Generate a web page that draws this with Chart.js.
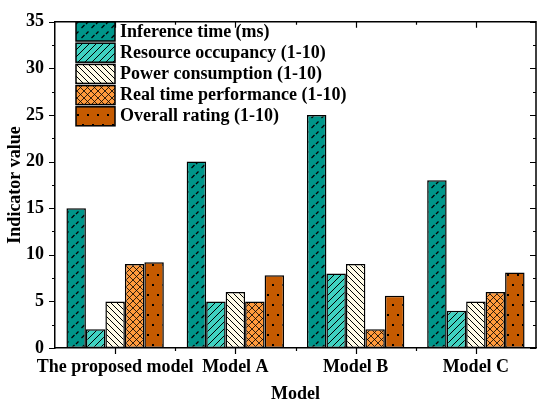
<!DOCTYPE html>
<html>
<head>
<meta charset="utf-8">
<script src="https://cdn.jsdelivr.net/npm/chart.js@4/dist/chart.umd.min.js"></script>
<style>
  html, body { margin: 0; padding: 0; background: #fff; }
</style>
</head>
<body>
<canvas id="grafico" width="537" height="403"></canvas>
<script>
// data
const models = ["The proposed model", "Model A", "Model B", "Model C"];
const seriesNames = [
  "Inference time (ms)",
  "Resource occupancy (1-10)",
  "Power consumption (1-10)",
  "Real time performance (1-10)",
  "Overall rating (1-10)"
];
const inferenceTime = [15, 20, 25, 18];
const resourceOccupancy = [2, 5, 8, 4];
const powerConsumption = [5, 6, 9, 5];
const realTimePerf = [9, 5, 2, 6];
const overallRating = [9.2, 7.8, 5.6, 8.1];
const yMin = 0;
const yMax = 35;
const yStep = 5;

const FONT = "'Liberation Serif', 'Times New Roman', serif";

function makePattern(bg, w, h, draw) {
  let c = document.createElement("canvas");
  c.width = w;
  c.height = h;
  let ctx = c.getContext("2d");
  ctx.fillStyle = bg;
  ctx.fillRect(0, 0, w, h);
  ctx.strokeStyle = "#000";
  ctx.fillStyle = "#000";
  ctx.lineWidth = 1;
  draw(ctx);
  return ctx.createPattern(c, "repeat");
}

// short dashes
let pTeal = makePattern("#00968a", 10, 10, ctx => {
  ctx.lineWidth = 1.3;
  ctx.beginPath();
  ctx.moveTo(1.5, 8); ctx.lineTo(4.5, 5);
  ctx.moveTo(6, 4); ctx.lineTo(8.5, 1.5);
  ctx.stroke();
});
// forward hatch
let pTurq = makePattern("#3fd2c1", 7, 7, ctx => {
  ctx.beginPath();
  ctx.moveTo(-1, 8); ctx.lineTo(8, -1);
  ctx.moveTo(-1, 1); ctx.lineTo(1, -1);
  ctx.moveTo(6, 8); ctx.lineTo(8, 6);
  ctx.stroke();
});
// back hatch
let pCream = makePattern("#fffbe6", 6, 6, ctx => {
  ctx.beginPath();
  ctx.moveTo(-1, -1); ctx.lineTo(7, 7);
  ctx.moveTo(5, -1); ctx.lineTo(7, 1);
  ctx.moveTo(-1, 5); ctx.lineTo(1, 7);
  ctx.stroke();
});
// cross hatch
let pOrange = makePattern("#ff9a3c", 7, 7, ctx => {
  ctx.lineWidth = 0.8;
  ctx.beginPath();
  ctx.moveTo(-1, 8); ctx.lineTo(8, -1);
  ctx.moveTo(-1, -1); ctx.lineTo(8, 8);
  ctx.stroke();
});
// sparse dots
let pDots = makePattern("#c55a00", 10, 20, ctx => {
  ctx.fillRect(2, 4, 2, 2);
  ctx.fillRect(7, 14, 2, 2);
});

let patterns = [pTeal, pTurq, pCream, pOrange, pDots];
let values = [inferenceTime, resourceOccupancy, powerConsumption, realTimePerf, overallRating];

let datasets = seriesNames.map((name, i) => ({
  label: name,
  data: values[i],
  backgroundColor: patterns[i],
  borderColor: "#000",
  borderWidth: 1.5,
  borderSkipped: false,
  categoryPercentage: 0.81,
  barPercentage: 1
}));

// frame, tick marks and legend
const framePlugin = {
  id: "frame",
  afterDraw(chart) {
    let ctx = chart.ctx;
    let a = chart.chartArea;
    let xs = chart.scales.x;
    let ys = chart.scales.y;
    ctx.save();
    ctx.strokeStyle = "#000";
    ctx.lineWidth = 1.5;
    ctx.beginPath();
    ctx.moveTo(a.left, a.top); ctx.lineTo(a.right, a.top); ctx.lineTo(a.right, a.bottom);
    ctx.stroke();

    ctx.lineWidth = 1.2;
    ctx.beginPath();
    for (let v = yMin; v <= yMax; v += yStep / 2) {
      let y = Math.round(ys.getPixelForValue(v)) + 0.5;
      let len = (v % yStep === 0) ? 6 : 3;
      ctx.moveTo(a.left, y); ctx.lineTo(a.left - len, y);
      ctx.moveTo(a.right, y); ctx.lineTo(a.right - len, y);
    }
    for (let i = 0; i < models.length; i++) {
      let x = Math.round(xs.getPixelForValue(i)) + 0.5;
      ctx.moveTo(x, a.bottom); ctx.lineTo(x, a.bottom + 6);
      ctx.moveTo(x, a.top); ctx.lineTo(x, a.top + 6);
      if (i < models.length - 1) {
        let xm = Math.round((xs.getPixelForValue(i) + xs.getPixelForValue(i + 1)) / 2) + 0.5;
        ctx.moveTo(xm, a.bottom); ctx.lineTo(xm, a.bottom + 3);
        ctx.moveTo(xm, a.top); ctx.lineTo(xm, a.top + 3);
      }
    }
    ctx.stroke();

    // legend
    let ds = chart.data.datasets;
    ctx.font = "bold 18px " + FONT;
    ctx.textBaseline = "middle";
    ctx.textAlign = "left";
    for (let i = 0; i < ds.length; i++) {
      let bx = 76, by = 22 + i * 21.2;
      ctx.fillStyle = ds[i].backgroundColor;
      ctx.fillRect(bx, by, 39, 19);
      ctx.lineWidth = 1.5;
      ctx.strokeRect(bx, by, 39, 19);
      ctx.fillStyle = "#000";
      ctx.fillText(ds[i].label, 120, by + 10);
    }
    ctx.restore();
  }
};

new Chart(document.getElementById("grafico"), {
  type: "bar",
  data: { labels: models, datasets: datasets },
  options: {
    responsive: false,
    animation: false,
    layout: { padding: { top: 16, right: 1, left: 0, bottom: 0 } },
    plugins: {
      legend: { display: false },
      tooltip: { enabled: false }
    },
    scales: {
      x: {
        grid: { display: false, drawTicks: false },
        border: { display: true, color: "#000", width: 1.5 },
        ticks: {
          color: "#000",
          font: { family: FONT, size: 18, weight: "bold" },
          padding: 9,
          maxRotation: 0,
          autoSkip: false
        },
        title: {
          display: true,
          text: "Model",
          color: "#000",
          font: { family: FONT, size: 18, weight: "bold", lineHeight: 1 },
          padding: { top: 0, bottom: 0 }
        },
        afterFit(s) { s.height = 55; }
      },
      y: {
        min: yMin,
        max: yMax,
        grid: { display: false, drawTicks: false },
        border: { display: true, color: "#000", width: 1.5 },
        ticks: {
          stepSize: yStep,
          color: "#000",
          font: { family: FONT, size: 18, weight: "bold" },
          padding: 11
        },
        title: {
          display: true,
          text: "Indicator value",
          color: "#000",
          font: { family: FONT, size: 18, weight: "bold", lineHeight: 1 },
          padding: { top: 6, bottom: 0 }
        },
        afterFit(s) { s.width = 55; }
      }
    }
  },
  plugins: [framePlugin]
});
</script>
</body>
</html>
